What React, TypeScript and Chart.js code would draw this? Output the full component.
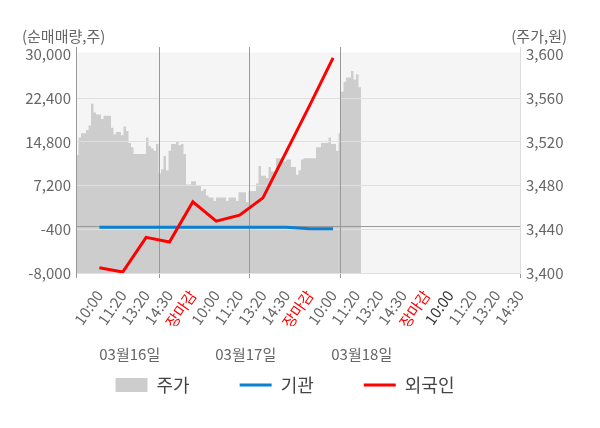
import React, { useEffect, useRef } from 'react';
import { Chart, registerables } from 'chart.js';

Chart.register(...registerables);

const TIME_LABELS = ['10:00', '11:20', '13:20', '14:30', '장마감', '10:00', '11:20', '13:20', '14:30', '장마감', '10:00', '11:20', '13:20', '14:30', '장마감', '10:00', '11:20', '13:20', '14:30'];
const DATE_LABELS = ['03월16일', '03월17일', '03월18일'];
// positions on the price-sample axis
const DATE_POSITIONS = [21.5, 67.9, 114.3];
const SESSION_STARTS = [33.2, 69.2, 105.6];
const PRICE_AXIS_MAX = 177.6;

const FOREIGN = [-7080, -7826, -1805, -2621, 4372, 1023, 2064, 5066, 13118, 21151, 29427];
const INSTITUTION = [-50, -50, -50, -50, -50, -50, -50, -50, -50, -300, -300];
const PRICE = [
  3508, 3524, 3528, 3528, 3531, 3535, 3555, 3547, 3545, 3545,
  3541, 3544, 3544, 3544, 3533, 3527, 3529, 3529, 3526, 3534,
  3530, 3519, 3515, 3509, 3509, 3509, 3509, 3509, 3524, 3516,
  3514, 3512, 3518, 3491, 3495, 3507, 3494, 3512, 3518, 3518,
  3520, 3517, 3518, 3509, 3481, 3481, 3484, 3484, 3480, 3480,
  3475, 3477, 3471, 3469, 3469, 3466, 3469, 3469, 3469, 3469,
  3466, 3469, 3469, 3469, 3466, 3474, 3474, 3474, 3465, 3475,
  3475, 3475, 3482, 3498, 3489, 3489, 3487, 3497, 3493, 3493,
  3505, 3505, 3502, 3502, 3504, 3504, 3497, 3497, 3490, 3494,
  3504, 3505, 3505, 3505, 3505, 3505, 3515, 3515, 3519, 3519,
  3519, 3524, 3518, 3518, 3512, 3528, 3566, 3575, 3579, 3579,
  3585, 3577, 3582, 3570,
];

const LEFT_TICKS = [-8000, -400, 7200, 14800, 22400, 30000];
const RIGHT_TICKS = [3400, 3440, 3480, 3520, 3560, 3600];
const LEFT_MAX = 31304;
const RIGHT_MAX = 3606.86;

const FONT = '"Noto Sans CJK KR", "Noto Sans", sans-serif';
const AREA_COLOR = '#cdcdcd';
const BLUE = '#0a80d2';
const RED = '#ff0000';
const TICK_GRAY = '#666666';

const decorPlugin = {
  id: 'decor',
  beforeDraw(chart: any) {
    const { ctx, chartArea, scales } = chart;
    const top = scales.y.getPixelForValue(LEFT_TICKS[LEFT_TICKS.length - 1]) - 2;
    ctx.save();
    ctx.fillStyle = '#f5f5f5';
    ctx.fillRect(chartArea.left, top, chartArea.right - chartArea.left, chartArea.bottom - top);
    ctx.font = '15px ' + FONT;
    ctx.fillStyle = TICK_GRAY;
    ctx.textBaseline = 'middle';
    ctx.textAlign = 'left';
    ctx.fillText('(순매매량,주)', 22, 36);
    ctx.textAlign = 'right';
    ctx.fillText('(주가,원)', 567, 36);
    ctx.restore();
  },
  afterDatasetDraw(chart: any, args: any) {
    if (args.index === 0) {
      chart.scales.y.drawGrid(chart.chartArea);
      chart.scales.xp.drawGrid(chart.chartArea);
    }
  },
  afterDraw(chart: any) {
    const { ctx, scales, chartArea } = chart;
    ctx.save();
    ctx.font = '15px ' + FONT;
    ctx.fillStyle = TICK_GRAY;
    ctx.textBaseline = 'middle';
    ctx.textAlign = 'center';
    DATE_LABELS.forEach((d, i) => {
      ctx.fillText(d, scales.xp.getPixelForValue(DATE_POSITIONS[i]), chartArea.bottom + 81);
    });
    ctx.restore();
  },
};

export default function App() {
  const ref = useRef<HTMLCanvasElement | null>(null);

  useEffect(() => {
    document.body.style.margin = '0';
    if (!ref.current) return;
    const sessionTicks = [0, ...SESSION_STARTS, PRICE_AXIS_MAX];
    const leftTicks = [...LEFT_TICKS, 0].sort((a, b) => a - b);
    const priceData = PRICE.map((v, i) => ({ x: i, y: v }));
    priceData.push({ x: PRICE.length, y: PRICE[PRICE.length - 1] });

    const chart = new Chart(ref.current, {
      type: 'line',
      data: {
        datasets: [
          {
            label: '주가',
            data: priceData,
            xAxisID: 'xp',
            yAxisID: 'y2',
            stepped: true,
            fill: 'start',
            backgroundColor: AREA_COLOR,
            borderColor: AREA_COLOR,
            borderWidth: 0,
            pointRadius: 0,
            order: 3,
          },
          {
            label: '기관',
            data: INSTITUTION.map((v, i) => ({ x: i, y: v })),
            xAxisID: 'x',
            yAxisID: 'y',
            borderColor: BLUE,
            backgroundColor: BLUE,
            borderWidth: 3,
            pointRadius: 0,
            tension: 0,
            order: 2,
          },
          {
            label: '외국인',
            data: FOREIGN.map((v, i) => ({ x: i, y: v })),
            xAxisID: 'x',
            yAxisID: 'y',
            borderColor: RED,
            backgroundColor: RED,
            borderWidth: 3,
            pointRadius: 0,
            tension: 0,
            order: 1,
          },
        ],
      },
      options: {
        animation: false,
        responsive: false,
        events: [],
        layout: { padding: { top: 47, left: 0, right: 30, bottom: 24 } },
        font: { family: FONT },
        scales: {
          xp: {
            type: 'linear',
            position: 'bottom',
            weight: 0,
            min: 0,
            max: PRICE_AXIS_MAX,
            afterBuildTicks: (s: any) => { s.ticks = sessionTicks.map((v) => ({ value: v })); },
            afterFit: (s: any) => { s.height = 5; },
            grid: {
              display: true,
              drawTicks: true,
              tickLength: 5,
              color: (c: any) => (c.index === sessionTicks.length - 1 ? '#dddddd' : '#999999'),
              tickColor: '#999999',
            },
            border: { display: true, color: '#999999' },
            ticks: { display: false },
          },
          x: {
            type: 'linear',
            position: 'bottom',
            weight: 1,
            min: -1,
            max: TIME_LABELS.length - 1,
            afterBuildTicks: (s: any) => { s.ticks = TIME_LABELS.map((_, i) => ({ value: i })); },
            afterFit: (s: any) => { s.height = 48; },
            grid: { display: false, drawTicks: false },
            border: { display: false },
            ticks: {
              autoSkip: false,
              minRotation: 55,
              maxRotation: 55,
              padding: 9,
              font: { family: FONT, size: 15 },
              color: (c: any) => {
                const lbl = TIME_LABELS[c.index];
                if (lbl === '장마감') return RED;
                if (c.index === 15) return '#333333';
                return TICK_GRAY;
              },
              callback: (_v: any, i: number) => TIME_LABELS[i],
            },
          },
          y: {
            type: 'linear',
            position: 'left',
            min: LEFT_TICKS[0],
            max: LEFT_MAX,
            afterBuildTicks: (s: any) => { s.ticks = leftTicks.map((v) => ({ value: v })); },
            afterFit: (s: any) => { s.width = 76; },
            grid: {
              drawTicks: false,
              color: (c: any) => {
                const v = c.tick.value;
                if (v === 0) return '#999999';
                if (v === LEFT_TICKS[LEFT_TICKS.length - 1]) return 'rgba(0,0,0,0)';
                return '#e0e0e0';
              },
            },
            border: { display: true, color: '#999999' },
            ticks: {
              padding: 5,
              font: { family: FONT, size: 15 },
              color: TICK_GRAY,
              callback: (v: any) => (v === 0 ? '' : Number(v).toLocaleString('en-US')),
            },
          },
          y2: {
            type: 'linear',
            position: 'right',
            min: RIGHT_TICKS[0],
            max: RIGHT_MAX,
            afterBuildTicks: (s: any) => { s.ticks = RIGHT_TICKS.map((v) => ({ value: v })); },
            afterFit: (s: any) => { s.width = 50; },
            grid: { display: false, drawTicks: false },
            border: { display: true, color: '#dddddd' },
            ticks: {
              padding: 6,
              font: { family: FONT, size: 15 },
              color: TICK_GRAY,
              callback: (v: any) => Number(v).toLocaleString('en-US'),
            },
          },
        },
        plugins: {
          tooltip: { enabled: false },
          legend: {
            display: true,
            position: 'bottom',
            labels: {
              usePointStyle: true,
              pointStyleWidth: 32,
              boxHeight: 14,
              padding: 50,
              color: '#444444',
              font: { family: FONT, size: 18 },
              generateLabels: (ch: any) =>
                ch.data.datasets.map((ds: any, i: number) => ({
                  text: ds.label,
                  fillStyle: i === 0 ? AREA_COLOR : ds.borderColor,
                  strokeStyle: i === 0 ? AREA_COLOR : ds.borderColor,
                  lineWidth: i === 0 ? 0 : 3,
                  pointStyle: i === 0 ? 'rect' : 'line',
                  hidden: false,
                  datasetIndex: i,
                  fontColor: '#444444',
                })),
            },
          },
        },
      },
      plugins: [decorPlugin],
    } as any);

    return () => chart.destroy();
  }, []);

  return (
    <div style={{ width: 600, height: 428, position: 'relative' }}>
      <canvas ref={ref} width={600} height={428} style={{ display: 'block' }} />
    </div>
  );
}
